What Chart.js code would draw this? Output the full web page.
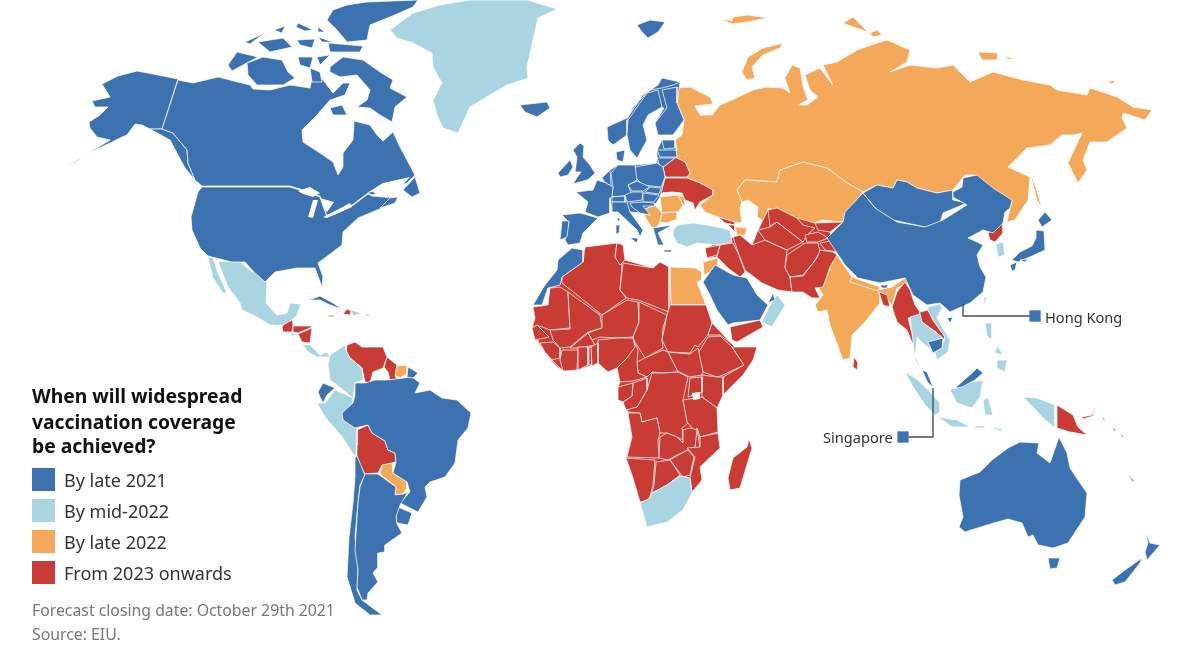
<!DOCTYPE html>
<html>
<head>
<meta charset="utf-8">
<title>When will widespread vaccination coverage be achieved?</title>
<script src="https://cdn.jsdelivr.net/npm/chart.js@4/dist/chart.umd.min.js"></script>
<style>
  html, body { margin: 0; background: #fff; }
  #map { display: block; }
</style>
</head>
<body>
<canvas id="map" width="1200" height="664"></canvas>
<script>
// map outlines, as flat x,y lists in map units
const categories = ['By late 2021', 'By mid-2022', 'By late 2022', 'From 2023 onwards'];
const notes = ['Forecast closing date: October 29th 2021', 'Source: EIU.'];
const titleLines = ['When will widespread', 'vaccination coverage', 'be achieved?'];

const byLate2022 = [
  // russia
  [677,88,690,87,710,97,713,104,695,106,700,115,712,115,720,105,732,100,753,90,767,87,783,88,790,93,785,78,792,65,800,68,803,87,808,100,798,105,807,105,818,97,810,90,805,75,820,68,833,85,823,65,837,62,857,50,877,43,887,40,910,50,907,62,890,72,910,65,937,68,953,65,970,82,993,72,1023,80,1050,85,1057,90,1087,95,1090,88,1117,97,1133,107,1152,110,1145,120,1123,113,1122,118,1127,128,1107,142,1090,142,1083,160,1087,170,1078,183,1068,163,1082,133,1073,135,1062,135,1050,145,1027,148,1008,167,1030,177,1028,200,1015,220,1007,222,1012,200,1000,200,983,187,975,175,965,175,953,190,937,193,917,188,907,182,897,180,893,188,877,185,863,192,847,183,827,168,803,162,780,170,777,182,745,180,737,190,742,202,740,208,742,223,735,222,718,217,705,212,700,205,713,195,713,190,700,183,687,178,690,173,685,162,675,157,677,150,675,140,682,135,684,120,677,103],
  // kazakhstan
  [737,190,745,180,777,182,780,170,803,162,827,168,847,183,863,192,848,210,843,222,823,220,803,227,793,218,778,213,768,208,767,223,757,217,758,207,748,200,742,202],
  // novaya zemlya, franz josef, severnaya zemlya
  [742,72,748,57,763,48,783,43,780,48,763,55,752,67,755,78,747,80],
  [718,18,732,21,733,17,747,15,768,18,747,22,732,24],
  [843,23,853,17,868,32,856,28],
  [870,33,877,30,882,35,873,37],
  // new siberian islands, wrangel, sakhalin
  [978,52,998,53,997,60,982,60],
  [1005,56,1015,59,1008,59],
  [1107,82,1115,80,1113,84],
  [1030,173,1035,185,1042,208,1037,200],
  // india, nepal
  [837,255,845,267,852,277,878,290,892,287,905,278,908,283,897,288,892,305,885,297,879,292,880,303,865,322,852,335,850,358,843,360,830,325,827,310,818,312,815,305,823,295,817,285,830,270,828,258],
  [852,277,880,287,878,291,850,282],
  // egypt, jordan
  [670,267,695,268,702,272,702,280,697,282,706,305,671,305],
  [703,262,718,258,718,264,710,272,704,275],
  // balkans, romania, bulgaria, moldova, azerbaijan
  [642,210,655,205,662,213,660,222,657,227,652,228,647,220],
  [660,197,678,195,683,205,678,212,662,213],
  [662,213,678,212,677,219,667,223,660,222],
  [678,195,684,197,685,205,683,205],
  [735,227,747,228,745,235,737,235],
  // suriname, paraguay, jamaica
  [397,366,407,365,407,373,400,378,395,375],
  [382,465,392,463,393,473,407,482,407,488,403,494,395,495,396,487,380,474],
  [328,315,335,315,335,317,328,317]
];

const from2023 = [
  // africa landmass under the countries
  [583,250,617,243,623,245,625,260,653,268,660,262,669,267,671,305,706,305,712,323,730,342,735,347,757,347,753,360,743,375,723,395,717,408,718,433,720,448,700,467,702,480,692,492,690,478,680,476,667,485,652,493,649,500,640,502,633,478,626,458,632,437,628,413,623,402,618,387,620,382,617,368,608,372,598,363,578,370,563,371,552,362,540,345,532,328,535,318,533,307,548,305,550,288,562,280],
  // middle east and central asia landmass
  [705,248,733,237,740,235,752,245,758,230,768,210,797,218,815,223,843,222,830,232,838,252,833,252,830,267,823,287,815,288,820,298,803,292,778,290,762,283,745,270,740,277,728,268,717,257,707,258],
  // algeria, tunisia, libya
  [585,247,617,243,615,257,622,265,620,290,626,298,602,315,562,283,562,277,583,262],
  [617,243,623,245,625,260,620,265,615,257],
  [623,263,653,268,660,262,669,267,669,312,638,300,627,298,620,290],
  // mauritania, mali, niger, chad, sudan
  [533,307,548,305,550,288,560,287,568,292,570,328,550,330,537,325,532,328,535,318],
  [568,292,600,315,602,328,588,332,570,347,560,348,553,340,550,330,570,329],
  [602,315,627,300,638,302,639,322,633,337,617,338,600,337,592,340,588,333,602,328],
  [639,302,667,315,663,328,662,340,663,348,645,358,635,342,633,337,639,322],
  [670,305,706,305,712,323,708,335,698,347,695,345,690,353,668,352,662,340,667,315],
  // eritrea, ethiopia, somalia, kenya, south sudan
  [708,335,712,323,730,342,720,335],
  [698,353,708,337,720,336,732,347,744,365,723,375,717,377,703,372],
  [732,347,757,347,753,360,743,375,723,395,723,377,744,365],
  [702,375,717,377,723,377,723,395,717,408,702,397],
  [668,352,690,354,698,348,703,372,702,375,690,377,677,371],
  // central african republic, drc, congo, gabon, cameroon, nigeria
  [637,362,645,358,663,350,668,352,678,372,663,373,652,372,647,377,638,373],
  [652,373,663,373,678,372,688,377,683,400,688,423,682,428,683,440,677,437,667,433,660,433,657,418,642,422,640,413,628,412,627,408,637,407,647,390],
  [633,383,647,378,647,390,637,407,626,410,623,402,632,396],
  [618,387,633,383,632,396,623,402,618,400],
  [633,340,638,350,637,362,638,373,647,377,633,381,620,382,617,368,627,358],
  [598,340,617,338,633,338,635,347,627,358,617,368,608,372,598,363],
  // west africa
  [570,348,588,333,592,340,595,345,578,348],
  [578,347,588,347,588,365,578,370],
  [589,347,592,347,592,365,589,365],
  [591,347,598,343,598,363,592,366],
  [562,350,578,350,577,370,563,371,560,360],
  [540,343,553,342,560,348,560,358,552,360,545,352],
  [532,328,537,325,549,337,535,340],
  [545,353,552,360,563,371,556,366],
  // uganda, tanzania, angola, zambia, malawi
  [690,378,702,377,702,392,688,397],
  [683,400,702,397,717,408,718,432,700,437,687,422],
  [628,413,640,413,642,422,657,418,660,433,658,440,659,458,627,457,632,437],
  [660,437,667,433,677,437,683,443,683,430,690,428,697,430,695,447,677,455,668,460,659,458],
  [697,428,700,437,703,453,700,448],
  // mozambique, zimbabwe, namibia, botswana
  [718,433,720,448,700,467,702,480,692,492,690,478,695,457,687,448,700,447,700,437],
  [675,457,688,450,694,457,690,475,683,477,670,460],
  [626,458,655,460,653,485,649,500,640,502,633,478],
  [656,462,670,460,680,475,667,485,652,493,654,485],
  // madagascar
  [749,439,752,448,740,488,730,490,728,478,733,458,747,447],
  // yemen
  [730,327,760,320,763,327,737,342,732,340],
  // middle east and central asia
  [733,237,740,235,752,245,765,240,787,250,785,267,790,277,792,292,778,290,762,283,745,270,738,252],
  [720,245,733,243,738,253,745,272,740,277,728,268,717,257],
  [705,248,720,245,717,255,707,258],
  [718,217,735,222,735,225,725,223],
  [728,225,735,225,735,232],
  [758,230,770,227,777,222,790,232,803,242,787,250,765,240],
  [768,210,777,208,797,218,803,225,815,228,807,235,803,242,790,232,777,222,770,226],
  [815,223,843,222,830,232,818,230],
  [805,235,818,232,828,238,818,242,807,242],
  [787,255,805,243,818,243,820,252,813,263,803,275,790,277,785,268],
  [790,277,803,276,817,258,820,250,833,252,837,255,830,267,823,287,815,288,820,298,812,298,803,292,792,292],
  [820,243,835,240,838,252,825,250],
  // ukraine, belarus
  [661,193,665,178,687,178,700,183,713,190,713,195,700,202,695,210,693,203,685,200,682,193,672,192],
  [663,167,675,157,685,162,690,173,687,177,665,177],
  // central america, venezuela, guyana, bolivia, haiti
  [287,318,292,318,293,325,292,332,283,332,282,327],
  [293,326,312,326,310,328,298,333,293,332],
  [298,334,312,328,310,343,302,342],
  [347,345,355,342,362,347,383,347,387,357,383,368,373,372,370,383,365,382,362,368,350,358,346,352],
  [387,357,397,365,395,375,397,379,390,380,388,372,384,367],
  [357,430,368,425,372,433,385,441,388,450,395,453,396,462,382,465,378,473,365,474,360,465,357,456],
  [343,314,347,309,351,311,351,315],
  // bangladesh, myanmar, laos, sri lanka, north korea
  [879,292,887,295,890,307,883,305],
  [905,282,910,290,915,305,920,312,918,318,908,318,913,337,917,352,911,340,907,330,897,322,892,307,897,292],
  [920,312,928,310,933,320,945,337,943,340,937,333,923,323,920,320],
  [854,357,858,363,857,370,853,367],
  [988,233,1003,223,1003,233,995,242,990,240],
  // papua new guinea, new britain, solomons
  [1057,405,1073,415,1078,427,1087,435,1070,432,1057,428],
  [1082,417,1092,415,1095,407,1093,416,1083,419],
  [1102,416,1105,419,1104,421],
  [1112,427,1116,430,1114,431],
  [1120,433,1124,437,1122,437],
  // lesotho, eswatini
  [673,505,678,504,677,509,673,510],
  [686,493,689,493,688,496]
];

const byMid2022 = [
  // greenland
  [390,30,413,13,440,5,470,0,527,0,557,9,538,18,533,40,527,67,528,78,507,85,490,95,470,107,458,133,443,128,437,115,433,100,442,83,433,67,432,53,413,43,397,38],
  // mexico, baja
  [218,262,238,260,252,272,258,270,267,283,266,303,277,315,287,313,290,303,301,304,297,315,292,320,283,325,270,325,257,317,242,310,240,303,228,287],
  [208,257,213,258,218,273,227,293,223,293,213,278],
  // costa rica, panama, dominican republic
  [302,344,310,345,320,355,327,352,330,357,323,357,317,357,308,352],
  [351,310,362,313,353,316],
  [366,314,370,314,370,316,366,316],
  // colombia, peru
  [345,345,330,355,328,365,330,380,337,385,353,398,355,383,363,380,362,368,350,358,346,350],
  [317,403,325,403,335,390,353,398,353,403,343,413,343,420,357,428,357,445,355,457,343,438,325,417],
  // turkey, oman, south africa
  [673,230,678,225,693,223,712,226,730,230,732,242,717,245,697,243,687,247,677,243,673,235],
  [777,295,785,305,772,327,762,322,769,307],
  [640,503,650,498,652,493,667,485,680,476,690,478,692,493,683,510,667,522,647,527,643,513],
  // south korea, taiwan, thailand, vietnam
  [996,244,1003,242,1005,255,998,257],
  [984,297,987,297,984,307],
  [910,317,920,314,922,322,937,333,943,338,928,342,932,350,925,345,917,337,915,357,922,370,915,360,912,333],
  [928,307,940,304,942,308,937,318,950,340,948,352,937,360,935,352,942,348,945,337,933,320,928,310],
  // sumatra, java, lesser sunda, borneo, sulawesi, philippines
  [905,372,918,380,930,392,940,403,940,412,935,415,925,405,912,385],
  [938,417,957,420,970,427,952,427],
  [975,426,985,426,985,428,975,428],
  [990,427,1003,429,1000,431],
  [950,390,967,383,983,380,980,397,972,408,957,403],
  [983,400,1002,390,988,397,993,415,985,415],
  [985,323,992,323,992,340,987,336],
  [997,360,1007,360,1005,372,997,368],
  [997,345,1003,355,995,353],
  // indonesian papua
  [1023,397,1037,398,1055,405,1055,428,1043,418,1033,407]
];

const byLate2021 = [
  // alaska, aleutians
  [102,84,118,76,137,71,153,74,178,79,162,129,150,129,142,125,135,124,127,135,120,138,112,142,97,149,87,154,110,140,97,137,90,128,89,122,100,115,108,107,95,107,92,101,110,97],
  [84,156,76,161,66,166,76,162],
  [150,129,162,129,173,133,187,150,188,163,195,180,185,168,170,140],
  // canada
  [178,80,193,83,218,77,250,85,253,89,270,90,290,85,310,88,313,74,323,80,333,93,343,83,350,83,345,95,330,100,317,115,302,130,303,142,323,155,333,162,338,175,343,167,343,153,353,140,354,121,370,125,377,135,383,141,393,132,400,147,415,175,407,183,397,187,383,190,372,195,368,193,352,205,338,212,327,216,320,196,303,190,290,186,202,186,195,180,188,163,187,150,173,133,162,129],
  // arctic islands
  [330,67,343,57,363,60,380,72,393,80,390,88,407,97,395,107,392,122,380,115,370,108,357,107,367,100,370,90,357,75,340,77,330,72],
  [228,65,237,52,258,57,243,65,232,71],
  [247,63,263,57,282,60,288,72,295,78,283,85,257,85,248,75],
  [347,5,367,2,418,0,413,7,390,17,370,25,367,40,347,42,337,30,327,20,333,10],
  [328,43,363,46,360,52,330,52],
  [245,42,265,33,258,38,250,44],
  [258,42,283,38,292,47,270,52],
  [274,30,285,26,282,33],
  [298,23,313,30,305,31,296,27],
  [318,27,325,32,318,32],
  [297,40,315,39,312,48,300,45],
  [318,37,333,42,322,42],
  [298,57,313,57,310,68,300,65],
  [317,57,330,55,320,65],
  [310,68,320,72,322,82,312,82],
  [330,108,342,105,347,115,333,115],
  [403,190,415,177,420,193,412,197],
  [188,177,202,188,192,181],
  // usa, nova scotia
  [202,187,290,187,303,191,320,197,327,217,338,213,352,206,368,194,372,196,383,197,395,198,382,208,358,218,343,232,342,245,318,263,323,277,322,287,315,268,297,268,275,272,265,282,252,270,245,262,232,262,208,256,200,248,192,230,191,217,198,192],
  [380,208,390,198,398,197,395,203],
  // svalbard, iceland, ireland, uk
  [637,25,650,20,665,22,658,32,648,38,642,32],
  [520,105,547,102,550,108,537,117,525,112],
  [558,173,570,160,573,167,568,175,560,177],
  [573,150,580,143,584,146,583,157,590,165,595,173,590,178,587,180,573,184,578,176,581,172,575,172,576,165,577,157],
  // scandinavia, baltic and central europe landmasses
  [607,127,627,118,643,95,658,85,662,78,680,82,677,103,684,120,673,135,658,135,655,123,664,108,658,107,648,115,643,125,647,140,637,158,630,150,627,135,613,145,608,140],
  [662,140,675,140,677,157,675,158,663,167,657,163,657,150],
  [602,178,610,170,618,165,635,165,657,163,663,167,665,177,661,193,660,197,655,205,642,210,650,215,640,213,630,212,625,205,612,212,610,198],
  // norway, sweden, finland, denmark
  [607,127,627,118,643,95,658,85,662,78,680,82,673,85,662,88,650,90,633,107,627,120,627,135,613,145,608,140],
  [628,120,647,93,658,90,662,107,648,115,643,125,647,140,637,158,630,150,627,135],
  [662,90,677,87,677,103,684,120,673,135,658,135,655,123,667,108],
  [616,152,625,150,623,162,617,160],
  // baltics
  [662,140,675,140,675,148,664,149],
  [657,150,664,150,676,150,677,157,660,157],
  [657,158,675,158,663,167,660,166],
  // poland, germany, benelux, france, iberia
  [635,167,657,163,663,167,665,177,661,187,643,185,636,178],
  [611,173,618,165,635,165,637,180,628,185,632,195,612,197,613,187],
  [602,178,610,170,611,186,606,183],
  [576,192,593,190,597,180,606,183,613,187,612,197,610,198,610,213,598,217,585,212,588,202],
  [562,215,580,213,598,218,583,233,580,243,568,245,565,240,569,222],
  [562,221,569,221,567,237,560,240],
  // alps, central europe, italy and islands
  [612,197,625,196,625,202,612,202],
  [625,195,632,192,643,192,642,200,627,202],
  [628,185,637,181,650,187,643,191,632,191],
  [650,187,661,188,659,194,645,192],
  [643,193,659,195,654,202,643,202],
  [630,203,643,202,654,203,655,206,643,206,650,215,640,213,632,207],
  [612,202,627,202,630,212,643,230,640,237,637,230,618,212,612,212],
  [630,238,638,238,637,243],
  [616,225,620,225,619,233,616,234],
  [617,218,620,218,619,223],
  // greece, crete
  [653,228,672,225,658,233,664,245,658,245],
  [664,250,672,250,672,252,664,252],
  // north africa, arabia
  [558,260,572,248,583,250,583,262,562,277,560,285,548,288,542,305,533,305,545,285,557,270],
  [703,282,715,265,733,275,747,278,757,295,768,305,760,320,733,323,728,325,717,310,710,295],
  [768,303,773,293,775,300],
  [697,251,699,251,699,253],
  // ecuador, brazil, guiana, uruguay, chile, argentina
  [318,392,323,383,335,388,327,395,323,403,320,397],
  [355,383,365,383,375,380,388,380,403,378,412,377,420,383,415,393,430,390,442,398,457,400,471,413,468,428,458,440,455,463,445,477,430,482,425,487,427,497,418,512,410,508,400,503,410,492,407,482,393,473,396,462,395,453,388,450,385,441,372,433,368,425,355,428,343,420,342,413,353,403,355,395],
  [408,367,418,373,413,378,407,377],
  [398,507,412,513,408,525,397,523,396,517],
  [355,457,357,456,365,475,360,485,358,503,355,537,358,570,357,590,362,600,382,615,370,615,355,603,347,577,349,537,353,503,355,477],
  [365,474,378,474,396,487,395,495,403,494,408,492,400,505,396,517,397,524,402,533,385,545,385,552,378,553,378,567,373,573,378,582,368,593,367,600,362,600,357,587,358,570,355,550,358,503,360,487],
  // el salvador, cuba
  [290,333,297,335,292,335],
  [309,300,320,296,333,303,342,309,330,305,320,300],
  // mongolia, china, hainan
  [863,193,877,185,893,188,897,180,907,182,917,188,937,193,953,190,953,200,967,203,943,213,940,223,925,227,893,220,877,210],
  [863,193,875,208,897,222,925,227,943,220,967,205,953,197,953,192,962,187,963,178,977,175,993,188,1012,200,1010,208,1005,212,1003,223,993,233,983,230,968,238,977,242,983,245,977,255,980,267,986,277,983,292,970,303,950,312,940,303,927,305,913,295,905,278,880,283,858,278,845,265,837,253,827,238,843,222,845,212],
  [947,318,953,317,950,323],
  // bhutan, cambodia, malaysia
  [880,285,888,285,887,288,882,288],
  [928,342,943,338,942,348,933,353],
  [922,370,927,372,933,387,928,383],
  [955,388,972,373,977,368,983,373,975,380,962,387],
  // japan
  [1038,220,1045,212,1052,220,1042,227],
  [1036,230,1044,231,1045,250,1032,256,1018,262,1012,260,1020,252,1032,246,1036,238],
  [1010,265,1017,262,1015,270,1012,271],
  [1020,260,1028,259,1025,262],
  // australia, tasmania, new zealand, new caledonia
  [960,480,980,472,992,460,1008,448,1020,442,1039,443,1037,453,1050,463,1059,437,1067,453,1070,468,1078,480,1087,493,1085,517,1068,543,1053,548,1038,545,1033,535,1028,537,1022,523,1008,519,987,525,965,532,959,527,963,517,959,495],
  [1048,558,1060,558,1057,568,1050,569],
  [1112,580,1125,570,1142,558,1140,563,1125,582,1115,585],
  [1145,532,1150,543,1160,545,1147,560,1145,552,1148,543],
  [1127,473,1135,482,1132,481]
];

// great lakes, gulf of st lawrence, lake victoria cut out of the land
const water = [
  [298,191,310,187,320,193,313,197,303,194],
  [313,200,318,200,313,218,308,217],
  [320,198,334,202,327,212,323,207],
  [323,217,337,210,350,203,352,207,338,213,327,218],
  [367,193,383,183,410,177,398,190,383,195,372,192],
  [692,393,700,392,700,399,693,400]
];

const seriesColours = ['#3d72b0', '#a9d5e2', '#f4a85a', '#c93c35'];

// legend boxes and the two city markers, same map units
const legendBoxes = [[43.5, 479.5], [43.5, 510.5], [43.5, 541.5], [43.5, 572.5]];
const hongKong = [[963, 304], [963, 316], [1035, 316]];
const singapore = [[933, 388], [933, 437], [903, 437]];

function toPoints(flat) {
  const out = [];
  for (let i = 0; i < flat.length; i += 2) out.push({ x: flat[i], y: flat[i + 1] });
  out.push({ x: flat[0], y: flat[1] });
  return out;
}

function shape(flat, colour, edge) {
  return {
    data: toPoints(flat),
    showLine: true,
    fill: 'shape',
    backgroundColor: colour,
    borderColor: edge,
    borderWidth: edge === colour ? 0 : 0.9,
    pointRadius: 0,
    tension: 0
  };
}

// chart.js paints the last dataset first, so stack top to bottom
const layers = [];
function addTop(list, colour, edge) {
  list.slice().reverse().forEach(p => layers.push(shape(p, colour, edge)));
}
const edge = 'rgba(255,255,255,0.8)';

const markers = [
  { data: [{ x: hongKong[2][0], y: hongKong[2][1] }], pointStyle: 'rect', pointRadius: 8, backgroundColor: seriesColours[0], borderWidth: 0 },
  { data: [{ x: singapore[2][0], y: singapore[2][1] }], pointStyle: 'rect', pointRadius: 8, backgroundColor: seriesColours[0], borderWidth: 0 },
  { data: hongKong.map(p => ({ x: p[0], y: p[1] })), showLine: true, borderColor: '#4a4f55', borderWidth: 1.4, pointRadius: 0, tension: 0 },
  { data: singapore.map(p => ({ x: p[0], y: p[1] })), showLine: true, borderColor: '#4a4f55', borderWidth: 1.4, pointRadius: 0, tension: 0 }
];
legendBoxes.forEach((b, i) => markers.push({
  data: [{ x: b[0], y: b[1] }], pointStyle: 'rect', pointRadius: 16.3, backgroundColor: seriesColours[i], borderWidth: 0
}));

water.forEach(p => layers.push(shape(p, '#ffffff', '#ffffff')));
addTop(byLate2021, seriesColours[0], edge);
addTop(byMid2022, seriesColours[1], edge);
addTop(from2023, seriesColours[3], edge);
addTop(byLate2022, seriesColours[2], edge);

const textPlugin = {
  id: 'mapText',
  afterDraw(chart) {
    const c = chart.ctx;
    const sx = chart.scales.x, sy = chart.scales.y;
    c.save();
    c.textBaseline = 'alphabetic';
    c.fillStyle = '#111';
    c.font = 'bold 19.3px "Noto Sans"';
    [403, 429, 453].forEach((y, i) => c.fillText(titleLines[i], sx.getPixelForValue(32), sy.getPixelForValue(y)));
    c.fillStyle = '#333';
    c.font = '18px "Noto Sans"';
    [487, 518, 549, 580].forEach((y, i) => c.fillText(categories[i], sx.getPixelForValue(64), sy.getPixelForValue(y)));
    c.font = '14.6px "Noto Sans"';
    c.fillText('Hong Kong', sx.getPixelForValue(1045), sy.getPixelForValue(323));
    c.fillText('Singapore', sx.getPixelForValue(823), sy.getPixelForValue(443));
    c.fillStyle = '#777';
    c.font = '15.8px "Noto Sans"';
    [616, 640].forEach((y, i) => c.fillText(notes[i], sx.getPixelForValue(32), sy.getPixelForValue(y)));
    c.restore();
  }
};

new Chart(document.getElementById('map'), {
  type: 'scatter',
  data: { datasets: markers.concat(layers) },
  plugins: [textPlugin],
  options: {
    responsive: false,
    animation: false,
    events: [],
    layout: { padding: 0, autoPadding: false },
    plugins: { legend: { display: false }, tooltip: { enabled: false }, title: { display: false } },
    scales: {
      x: { type: 'linear', min: 0, max: 1200, display: false },
      y: { type: 'linear', min: 0, max: 664, reverse: true, display: false }
    }
  }
});
</script>
</body>
</html>
